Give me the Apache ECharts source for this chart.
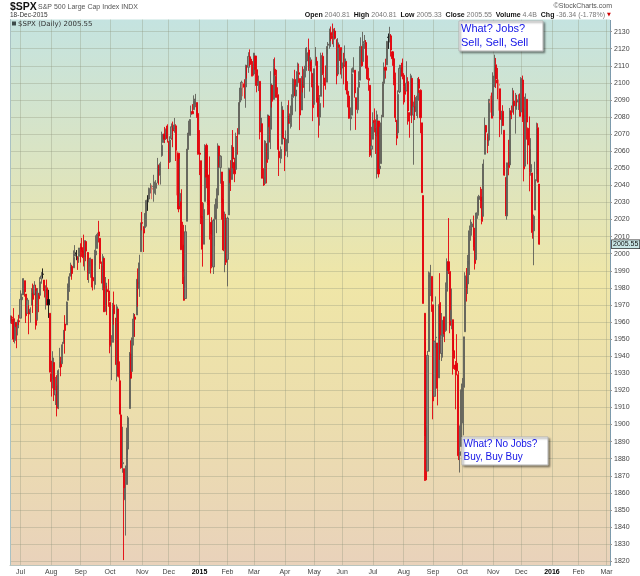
<!DOCTYPE html>
<html><head><meta charset="utf-8">
<script src="https://cdn.jsdelivr.net/npm/echarts@6/dist/echarts.min.js"></script>
<style>html,body{margin:0;padding:0;background:#fff}#c{width:640px;height:576px}</style>
</head><body><div id="c"></div><script>
// ---- Data (S&P 500 daily) ----
const holidays = ['2014-07-04','2014-09-01','2014-11-27','2014-12-25','2015-01-01','2015-01-19','2015-02-16','2015-04-03','2015-05-25','2015-07-03','2015-09-07','2015-11-26','2015-12-25','2016-01-01','2016-01-18','2016-02-15'];
const firstDay = '2014-06-20';
const lastDay = '2016-03-03';
const prevClose0 = 1959.48;
const yTicks = [1820,1830,1840,1850,1860,1870,1880,1890,1900,1910,1920,1930,1940,1950,1960,1970,1980,1990,2000,2010,2020,2030,2040,2050,2060,2070,2080,2090,2100,2110,2120,2130];
const monthNames = ['Jan','Feb','Mar','Apr','May','Jun','Jul','Aug','Sep','Oct','Nov','Dec'];

const open = [
1960.45,1962.92,1961.97,1949.27,1959.89,1956.56,1960.79,
1962.29,1973.06,1975.88,1984.22,1976.39,1965.10,1966.67,1965.76,1969.86,1977.36,1976.35,1979.75,1961.54,1976.93,1975.65,1985.32,1988.07,1984.60,1978.25,1980.03,1973.21,1965.14,
1929.80,1926.62,1936.34,1917.29,1923.03,1910.35,1933.43,1935.73,1935.60,1947.41,1958.87,1958.36,1972.73,1980.46,1986.82,1992.60,1991.74,1998.59,2000.54,1997.42,1998.45,
2004.07,2003.57,2001.67,1998.00,2007.17,2000.73,1988.41,1992.85,1996.74,1986.04,1981.93,1999.30,2003.07,2012.74,2009.08,1992.78,1983.34,1997.32,1966.22,1978.96,1978.21,
1971.44,1945.83,1948.12,1970.01,1962.36,1935.55,1967.68,1925.63,1905.65,1877.11,1874.18,1855.95,1864.91,1885.62,1909.38,1941.29,1931.02,1951.59,1962.97,1964.14,1983.29,1979.49,2001.20,
2018.21,2015.81,2015.29,2023.33,2032.36,2032.01,2038.20,2037.75,2039.21,2039.74,2038.29,2041.48,2051.16,2045.87,2057.46,2065.07,2070.15,2067.36,2074.78,
2065.78,2053.77,2067.45,2073.64,2072.78,2074.84,2056.55,2058.86,2027.92,2030.36,2005.03,1986.71,1973.77,2018.98,2061.04,2069.28,2081.48,2083.25,2084.30,2087.63,2088.49,2082.11,
2058.90,2054.44,2022.15,2005.55,2030.61,2063.45,2046.13,2031.58,2018.40,2013.75,1992.25,2020.76,2020.19,2034.30,2062.98,2050.42,2047.86,2032.34,2002.45,2019.35,
1996.67,2022.71,2048.86,2043.45,2062.28,2053.47,2049.38,2068.55,2069.98,2088.78,2096.47,2099.16,2099.25,2097.65,2109.83,2109.10,2115.30,2113.91,2110.88,
2105.23,2115.76,2107.72,2098.54,2100.91,2072.25,2076.14,2044.69,2041.10,2064.56,2055.35,2080.59,2072.84,2098.69,2090.32,2107.99,2103.94,2093.10,2059.94,2055.78,2064.11,2084.05,
2067.63,2060.03,2064.87,2080.79,2076.94,2081.29,2091.51,2102.03,2092.28,2097.82,2105.96,2102.58,2084.11,2102.82,2098.27,2107.21,2112.80,2119.29,2108.35,2112.49,2105.52,
2087.38,2110.23,2112.63,2091.26,2079.96,2092.13,2115.56,2102.87,2099.62,2100.43,2122.07,2121.30,2129.45,2127.79,2125.55,2130.36,2125.34,2105.13,2122.27,2120.66,
2108.64,2110.41,2110.64,2112.35,2095.09,2092.34,2079.07,2081.12,2106.24,2107.43,2091.34,2084.26,2097.40,2101.58,2121.06,2112.50,2123.16,2123.65,2109.96,2102.62,2098.63,2061.19,
2067.00,2078.03,2073.95,2069.52,2077.66,2049.73,2052.74,2080.03,2099.72,2109.22,2110.55,2126.80,2126.85,2127.55,2118.21,2114.16,2102.24,2078.19,2070.75,2094.70,2106.78,2111.60,
2104.49,2097.68,2095.27,2100.75,2082.61,2080.98,2102.66,2081.10,2086.19,2083.15,2089.70,2101.99,2095.69,2076.61,2034.08,1965.15,1898.08,1872.75,1942.77,1986.06,1986.73,
1970.09,1916.52,1950.79,1947.76,1927.30,1971.45,1941.59,1951.45,1963.06,1955.10,1978.02,1995.33,1989.66,1960.84,1961.39,1943.24,1934.81,1935.93,1929.18,1881.90,1887.14,
1919.65,1921.77,1954.33,1986.63,1982.34,1994.01,2013.73,2015.65,2015.00,2003.66,1996.47,2024.37,2031.73,2033.13,2033.47,2021.88,2058.19,2075.08,2068.75,2066.48,2088.35,2090.00,
2080.76,2102.63,2110.60,2101.68,2098.60,2096.56,2077.19,2083.41,2072.29,2044.64,2022.08,2053.67,2051.99,2083.70,2082.82,2089.41,2084.42,2089.30,2088.82,2090.95,
2082.93,2101.71,2080.71,2051.24,2090.42,2073.39,2061.17,2047.93,2047.27,2013.37,2025.55,2046.50,2073.76,2040.81
];
const high = [
1963.91,1963.74,1968.17,1960.83,1959.89,1961.47,1964.24,
1978.58,1976.67,1985.59,1984.22,1976.39,1974.15,1969.84,1968.67,1979.85,1982.52,1983.94,1981.80,1979.91,1976.93,1986.24,1989.23,1991.39,1984.60,1981.52,1984.85,1978.90,1965.14,
1937.35,1942.92,1936.34,1927.91,1928.89,1932.38,1944.90,1939.65,1948.41,1955.23,1964.04,1971.99,1982.57,1988.57,1994.76,1993.54,2001.95,2005.04,2002.14,1998.55,2003.38,
2006.12,2009.28,2011.17,2007.71,2007.17,2001.01,1996.66,1997.65,1996.74,1987.18,2002.28,2010.74,2012.34,2019.26,2009.08,1995.41,1999.79,1997.32,1986.37,1981.28,1985.17,
1971.44,1952.32,1971.19,1977.84,1962.36,1970.36,1967.68,1936.98,1912.09,1898.71,1874.18,1876.01,1898.16,1905.03,1942.45,1949.31,1961.95,1965.27,1964.64,1985.05,1991.40,1999.40,2018.19,
2024.46,2015.98,2023.77,2031.61,2034.26,2038.70,2041.28,2040.33,2046.18,2042.22,2043.07,2056.08,2052.14,2053.84,2071.46,2070.17,2074.21,2073.29,2075.76,
2065.78,2068.77,2076.28,2077.34,2079.47,2075.78,2060.60,2058.86,2055.53,2037.74,2018.69,2016.89,2016.75,2061.23,2077.85,2078.76,2086.73,2087.56,2092.70,2093.55,2088.49,2085.58,
2072.36,2054.44,2030.25,2029.61,2064.08,2064.43,2049.30,2056.93,2018.40,2021.35,2020.46,2028.94,2038.29,2064.62,2062.98,2057.62,2047.86,2042.49,2024.64,2023.32,
2021.66,2050.30,2054.74,2063.55,2072.40,2056.16,2070.86,2073.48,2088.53,2097.03,2101.30,2100.23,2102.13,2110.61,2110.05,2117.94,2119.59,2113.91,2112.74,
2117.52,2115.76,2107.72,2104.25,2100.91,2083.49,2076.14,2050.08,2066.41,2064.56,2081.41,2080.59,2106.85,2098.69,2113.92,2114.86,2107.63,2097.43,2067.15,2062.83,2088.97,2084.05,
2067.63,2072.17,2086.99,2089.81,2086.69,2093.31,2102.61,2107.65,2098.62,2111.91,2111.30,2102.58,2103.94,2109.64,2109.98,2120.49,2120.92,2125.92,2116.04,2113.65,2105.52,
2108.41,2120.95,2115.24,2098.42,2092.90,2117.66,2117.69,2105.06,2110.19,2121.45,2123.89,2131.78,2133.02,2134.72,2131.78,2132.15,2125.34,2126.22,2122.27,2120.66,
2119.15,2117.59,2121.92,2112.89,2100.99,2093.01,2085.62,2108.50,2115.02,2107.43,2091.34,2097.40,2106.79,2126.65,2121.64,2129.87,2128.03,2125.10,2116.04,2108.92,2098.63,2074.28,
2082.78,2085.06,2078.61,2083.74,2077.66,2074.28,2081.31,2100.67,2111.98,2114.14,2124.42,2128.91,2132.82,2128.49,2118.51,2116.87,2106.01,2078.19,2095.60,2110.60,2110.48,2114.24,
2105.70,2102.51,2112.66,2103.32,2082.61,2105.35,2102.66,2089.06,2092.93,2092.45,2102.87,2103.47,2096.17,2076.61,2034.08,1965.15,1948.04,1943.09,1989.60,1993.48,1986.73,
1970.09,1948.91,1975.01,1947.76,1970.42,1988.63,1965.29,1961.05,1963.06,1983.19,1997.26,2020.86,1989.66,1979.64,1961.39,1949.52,1937.17,1952.89,1931.39,1899.48,1920.53,
1927.21,1951.36,1989.17,1991.62,1999.31,2016.50,2020.13,2018.66,2022.34,2009.56,2024.15,2033.54,2034.45,2039.12,2037.97,2055.20,2079.74,2075.14,2070.37,2090.35,2092.52,2094.32,
2106.20,2116.48,2114.59,2108.78,2101.91,2096.56,2083.67,2086.94,2072.29,2044.64,2053.22,2066.69,2085.31,2086.74,2097.06,2095.61,2094.12,2093.00,2093.29,2093.81,
2103.37,2104.27,2085.00,2093.84,2090.42,2073.85,2080.33,2067.65,2047.27,2022.92,2053.87,2076.72,2076.37,2040.81
];
const low = [
1959.17,1958.89,1948.34,1947.49,1944.69,1952.18,1958.22,
1962.29,1972.58,1975.88,1974.88,1959.46,1965.10,1952.86,1959.63,1969.86,1965.34,1975.67,1955.59,1960.82,1965.77,1975.65,1982.44,1985.79,1974.37,1967.31,1969.95,1962.42,1930.67,
1916.37,1921.20,1913.77,1911.45,1904.78,1909.01,1933.43,1928.29,1935.60,1947.41,1941.50,1958.36,1972.73,1977.68,1986.82,1984.76,1991.74,1998.59,1996.20,1990.52,1994.65,
1994.85,1998.14,1992.54,1990.10,1995.60,1984.61,1982.99,1985.93,1980.26,1978.48,1979.06,1993.29,2003.07,2006.59,1991.01,1982.77,1978.63,1965.99,1966.22,1964.04,1968.96,
1941.72,1926.03,1948.12,1958.43,1935.10,1925.25,1927.56,1906.05,1874.14,1871.79,1820.66,1835.02,1864.91,1882.30,1909.38,1926.83,1931.02,1946.27,1951.37,1964.14,1969.04,1974.75,2001.20,
2013.68,2001.01,2014.42,2015.86,2025.07,2030.17,2035.28,2031.95,2030.44,2035.20,2034.46,2041.48,2040.37,2040.49,2056.75,2065.07,2064.75,2066.62,2065.06,
2049.57,2053.77,2066.65,2062.34,2070.81,2054.27,2034.17,2024.26,2027.92,2002.33,1982.26,1972.56,1973.77,2018.98,2061.03,2069.28,2079.77,2081.86,2084.30,2085.75,2079.53,2057.94,
2046.04,2017.34,1992.44,2005.55,2030.61,2038.33,2022.58,2008.25,1988.44,1991.47,1988.12,2004.49,2012.04,2026.38,2050.54,2040.97,2019.91,2001.49,1989.18,1993.38,
1980.90,2022.71,2036.72,2043.45,2049.97,2041.88,2048.62,2057.99,2069.98,2086.70,2089.80,2092.15,2090.79,2085.44,2102.54,2105.87,2109.89,2103.76,2103.75,
2104.50,2098.26,2094.49,2095.22,2066.93,2072.21,2044.16,2039.69,2041.10,2041.17,2055.35,2065.08,2061.23,2085.56,2090.32,2104.42,2091.50,2061.05,2045.50,2052.96,2064.11,2067.04,
2048.38,2057.32,2056.52,2076.10,2073.30,2074.29,2091.51,2092.33,2083.24,2097.82,2100.02,2072.37,2084.11,2094.38,2091.05,2103.19,2112.80,2107.04,2094.89,2097.41,2077.59,
2087.38,2110.23,2088.46,2067.93,2074.99,2092.13,2104.58,2085.57,2096.04,2100.43,2116.81,2120.01,2124.50,2122.59,2120.92,2126.06,2099.18,2105.13,2112.86,2104.89,
2102.54,2099.14,2109.61,2093.23,2085.67,2079.11,2072.14,2081.12,2106.24,2091.33,2072.49,2082.10,2088.86,2101.58,2109.45,2112.50,2119.89,2108.58,2101.78,2095.38,2056.64,2056.32,
2067.00,2071.02,2058.40,2044.02,2044.66,2049.73,2052.74,2080.03,2098.18,2102.49,2110.55,2119.88,2123.66,2115.40,2110.00,2098.63,2077.09,2063.52,2069.09,2094.08,2094.97,2102.07,
2087.31,2088.60,2095.27,2075.53,2067.91,2080.98,2076.49,2052.09,2078.26,2080.61,2079.30,2094.14,2070.53,2035.73,1970.89,1867.01,1867.08,1872.75,1942.77,1975.19,1965.98,
1903.07,1916.52,1944.72,1911.21,1927.30,1937.88,1937.19,1939.19,1948.27,1954.30,1977.93,1988.12,1953.45,1955.80,1929.22,1932.57,1908.92,1928.83,1879.21,1871.91,1887.14,
1900.70,1893.70,1954.33,1971.99,1976.44,1987.53,2007.61,2010.55,2001.78,1990.73,1996.47,2020.46,2022.31,2026.61,2017.22,2021.88,2058.19,2066.53,2058.84,2063.11,2082.63,2079.34,
2080.76,2097.51,2096.98,2090.41,2083.74,2068.24,2069.91,2074.85,2045.66,2022.02,2019.94,2045.90,2051.99,2078.76,2082.82,2081.39,2070.29,2086.30,2084.13,2080.41,
2082.93,2077.11,2042.35,2051.24,2066.78,2052.32,2036.53,2045.67,2008.80,1993.26,2025.55,2042.43,2041.66,2005.33
];
const close = [
1962.87,1962.61,1949.98,1959.53,1957.22,1960.96,1960.23,
1973.32,1974.62,1985.44,1977.65,1963.71,1972.83,1964.68,1967.57,1977.10,1973.28,1981.57,1958.12,1978.22,1973.63,1983.53,1987.01,1987.98,1978.34,1978.91,1969.95,1970.07,1930.67,
1925.15,1938.99,1920.21,1920.24,1909.57,1931.59,1936.92,1933.75,1946.72,1955.18,1955.06,1971.74,1981.60,1986.51,1992.37,1988.40,1997.92,2000.02,2000.12,1996.74,2003.37,
2002.28,2000.72,1997.65,2007.71,2001.54,1988.44,1995.69,1997.45,1985.54,1984.13,1998.98,2001.57,2011.36,2010.40,1994.29,1982.77,1998.30,1965.99,1982.85,1977.80,1972.29,
1946.16,1946.17,1967.90,1964.82,1935.10,1968.89,1928.21,1906.13,1874.74,1877.70,1862.49,1862.76,1886.76,1904.01,1941.28,1927.11,1950.82,1964.58,1961.63,1985.05,1982.30,1994.65,2018.05,
2017.81,2012.10,2023.57,2031.21,2031.92,2038.26,2039.68,2038.25,2039.33,2039.82,2041.32,2051.80,2048.72,2052.75,2063.50,2069.41,2067.03,2072.83,2067.56,
2053.44,2066.55,2074.33,2071.92,2075.37,2060.31,2059.82,2026.14,2035.33,2002.33,1989.63,1972.74,2012.89,2061.23,2070.65,2078.54,2082.17,2081.88,2088.77,2090.57,2080.35,2058.90,
2058.20,2020.58,2002.61,2025.90,2062.14,2044.81,2028.26,2023.03,2011.27,1992.67,2019.42,2022.55,2032.12,2063.15,2051.82,2057.09,2029.55,2002.16,2021.25,1994.99,
2020.85,2050.03,2041.51,2062.52,2055.47,2046.74,2068.59,2068.53,2088.48,2096.99,2100.34,2099.68,2097.45,2110.30,2109.66,2115.48,2113.86,2110.74,2104.50,
2117.39,2107.78,2098.53,2101.04,2071.26,2079.43,2044.16,2040.24,2065.95,2053.40,2081.19,2074.28,2099.50,2089.27,2108.10,2104.42,2091.50,2061.05,2056.15,2061.02,2086.24,2067.89,
2059.69,2066.96,2080.62,2076.33,2081.90,2091.18,2102.06,2092.43,2095.84,2106.63,2104.99,2081.18,2100.40,2097.29,2107.96,2112.93,2117.69,2108.92,2114.76,2106.85,2085.51,
2108.29,2114.49,2089.46,2080.15,2088.00,2116.10,2105.33,2099.12,2098.48,2121.10,2122.73,2129.20,2127.83,2125.85,2130.82,2126.06,2104.20,2123.48,2120.79,2107.39,
2111.73,2109.60,2114.07,2095.84,2092.83,2079.28,2080.15,2105.20,2108.86,2094.11,2084.43,2096.29,2100.44,2121.24,2109.99,2122.85,2124.20,2108.58,2102.31,2101.49,2057.64,2063.11,
2077.42,2076.78,2068.76,2081.34,2046.68,2051.31,2076.62,2099.60,2108.95,2107.40,2124.29,2126.64,2128.28,2119.21,2114.15,2102.15,2079.65,2067.64,2093.25,2108.57,2108.63,2103.84,
2098.04,2093.32,2099.84,2083.56,2077.57,2104.18,2084.07,2086.05,2083.39,2091.54,2102.44,2096.92,2079.61,2035.73,1970.89,1893.21,1867.61,1940.51,1987.66,1988.87,1972.18,
1913.85,1948.86,1951.13,1921.22,1969.41,1942.04,1952.29,1961.05,1953.03,1978.09,1995.31,1990.20,1958.03,1966.97,1942.74,1938.76,1932.24,1931.34,1881.77,1884.09,1920.03,
1923.82,1951.36,1987.05,1979.92,1995.83,2013.43,2014.89,2017.46,2003.69,1994.24,2023.86,2033.11,2033.66,2030.77,2018.94,2052.51,2075.15,2071.18,2065.89,2090.35,2089.41,2079.36,
2104.05,2109.79,2102.31,2099.93,2099.20,2078.58,2081.72,2075.00,2045.97,2023.04,2053.19,2050.44,2083.58,2081.24,2089.17,2086.59,2089.14,2088.87,2090.11,2080.41,
2102.63,2079.51,2049.62,2091.69,2077.07,2063.59,2047.62,2052.23,2012.37,2021.94,2043.41,2073.07,2041.89,2005.55
];

// ---- Build trading-day categories ----
const dates = [];
(function () {
  const p = s => { const a = s.split('-').map(Number); return Date.UTC(a[0], a[1] - 1, a[2]); };
  const end = p(lastDay);
  for (let t = p(firstDay); t <= end; t += 86400000) {
    const d = new Date(t); const wd = d.getUTCDay();
    const s = d.toISOString().slice(0, 10);
    if (wd !== 0 && wd !== 6 && holidays.indexOf(s) < 0) dates.push(s);
  }
})();
const monthStart = dates.map((s, i) => i > 0 && s.slice(5, 7) !== dates[i - 1].slice(5, 7));
const isTick = (idx) => !!monthStart[idx];

const COL = {
  upFilled: '#0d0d0d', upHollow: '#8a8a80', upHollowB: '#5f5f58',
  dnFilled: '#e3000a', dnHollow: '#f0998a', dnHollowB: '#ea6d60'
};
const candles = close.map((c, i) => {
  const o = open[i];
  const prev = i === 0 ? prevClose0 : close[i - 1];
  const up = c >= prev, hollow = c > o;
  let fill, border;
  if (up) { fill = hollow ? COL.upHollow : COL.upFilled; border = hollow ? COL.upHollowB : COL.upFilled; }
  else { fill = hollow ? COL.dnHollow : COL.dnFilled; border = hollow ? COL.dnHollowB : COL.dnFilled; }
  return { value: [o, c, low[i], high[i]], itemStyle: { color: fill, color0: fill, borderColor: border, borderColor0: border } };
});
const lastClose = close[close.length - 1];

const FONT = '"Liberation Sans", Arial, sans-serif';
const chart = echarts.init(document.getElementById('c'));
chart.setOption({
  animation: false,
  backgroundColor: '#ffffff',
  grid: {
    left: 10, right: 30, top: 19.5, bottom: 10.5, show: true, borderWidth: 0,
    backgroundColor: {
      type: 'linear', x: 0, y: 0, x2: 0, y2: 1,
      colorStops: [
        { offset: 0, color: '#c4e3e0' },
        { offset: 0.25, color: '#dae4c3' },
        { offset: 0.48, color: '#efe6a7' },
        { offset: 0.72, color: '#ecdead' },
        { offset: 1, color: '#e9d2bb' }
      ]
    }
  },
  xAxis: {
    type: 'category', data: dates, boundaryGap: true,
    axisLine: { show: true, lineStyle: { color: '#b9c4bd', width: 1 } },
    axisTick: { show: false },
    axisLabel: {
      interval: isTick, margin: 3, fontSize: 7, color: '#444', fontFamily: FONT,
      formatter: (v) => { const m = +v.slice(5, 7); return m === 1 ? '{y|' + v.slice(0, 4) + '}' : monthNames[m - 1]; },
      rich: { y: { fontSize: 7, fontWeight: 'bold', color: '#000', fontFamily: FONT } }
    },
    splitLine: { show: true, interval: isTick, alignWithLabel: true, lineStyle: { color: 'rgba(140,145,120,0.32)', width: 1 } }
  },
  yAxis: [{
    type: 'value', position: 'right', min: 1817.5, max: 2137.1, scale: true,
    axisLine: { show: true, lineStyle: { color: '#6d8fa3', type: [1, 1], width: 1 } },
    axisTick: { show: true, length: 2, customValues: yTicks, lineStyle: { color: '#999' } },
    axisLabel: { customValues: yTicks, margin: 4, fontSize: 7, color: '#444', fontFamily: FONT, formatter: (v) => String(v) },
    splitLine: { show: true, lineStyle: { color: 'rgba(140,145,120,0.32)', width: 1 } }
  }, {
    type: 'value', position: 'left', min: 1817.5, max: 2137.1,
    axisLine: { show: true, lineStyle: { color: '#a9c1c4', width: 1 } },
    axisTick: { show: false }, axisLabel: { show: false }, splitLine: { show: false }
  }],
  series: [{
    type: 'candlestick', data: candles, barWidth: 1.6, clip: false,
    itemStyle: { borderWidth: 0.9 },
    markLine: {
      silent: true, symbol: 'none', animation: false,
      lineStyle: { color: 'rgba(0,0,0,0)', width: 0.5, type: 'solid' },
      data: [{ yAxis: lastClose }],
      label: {
        show: true, position: 'end', distance: 2, formatter: () => lastClose.toFixed(2),
        fontSize: 7, color: '#111', fontFamily: FONT,
        backgroundColor: '#c9e6e6', borderColor: '#333', borderWidth: 0.8, padding: [1, 1, 0, 1]
      }
    }
  }],
  graphic: [
    { type: 'text', x: 10, y: 1.5, z: 10, style: { text: '$SPX', fontSize: 10.5, fontWeight: 'bold', fontFamily: FONT, fill: '#111' } },
    { type: 'text', x: 38, y: 3.5, z: 10, style: { text: 'S&P 500 Large Cap Index INDX', fontSize: 7, fontFamily: FONT, fill: '#555' } },
    { type: 'text', x: 10, y: 12, z: 10, style: { text: '18-Dec-2015', fontSize: 6.5, fontFamily: FONT, fill: '#333' } },
    { type: 'text', x: 612, y: 3, z: 10, style: { text: '©StockCharts.com', align: 'right', fontSize: 7, fontFamily: FONT, fill: '#555' } },
    { type: 'text', x: 605, y: 11.5, z: 10, style: {
        text: '{b|Open} {v|2040.81}  {b|High} {v|2040.81}  {b|Low} {v|2005.33}  {b|Close} {v|2005.55}  {b|Volume} {v|4.4B}  {b|Chg} {v|-36.34 (-1.78%)}',
        align: 'right', fontSize: 7, fontFamily: FONT, fill: '#111',
        rich: { b: { fontWeight: 'bold', fontSize: 7, fontFamily: FONT, fill: '#111' }, v: { fontSize: 7, fontFamily: FONT, fill: '#777' } } } },
    { type: 'text', x: 607, y: 12.5, z: 10, style: { text: '▼', fontSize: 5, fontFamily: 'DejaVu Sans', fill: '#d00000' } },
    { type: 'rect', z: 10, shape: { x: 12, y: 21.5, width: 4, height: 4 }, style: { fill: '#3c4a4a' } },
    { type: 'text', x: 18, y: 20.5, z: 10, style: { text: '$SPX (Daily) 2005.55', fontSize: 7, fontFamily: 'DejaVu Sans', fill: '#333' } },
    { type: 'rect', z: 20, shape: { x: 459, y: 21, width: 84, height: 30 }, style: { fill: '#ffffff', stroke: '#b5b5b5', lineWidth: 1, shadowBlur: 2, shadowOffsetX: 1.5, shadowOffsetY: 1.5, shadowColor: 'rgba(0,0,0,0.35)' } },
    { type: 'text', z: 21, x: 461, y: 23.5, style: { text: 'What? Jobs?', fontSize: 11, fontFamily: FONT, fill: '#1414e6' } },
    { type: 'text', z: 21, x: 461, y: 37.5, style: { text: 'Sell, Sell, Sell', fontSize: 11, fontFamily: FONT, fill: '#1414e6' } },
    { type: 'rect', z: 20, shape: { x: 462, y: 437, width: 86, height: 28 }, style: { fill: '#ffffff', stroke: '#b5b5b5', lineWidth: 1, shadowBlur: 2, shadowOffsetX: 1.5, shadowOffsetY: 1.5, shadowColor: 'rgba(0,0,0,0.35)' } },
    { type: 'text', z: 21, x: 463.5, y: 439.5, style: { text: 'What? No Jobs?', fontSize: 10, fontFamily: FONT, fill: '#1414e6' } },
    { type: 'text', z: 21, x: 463.5, y: 452.5, style: { text: 'Buy, Buy Buy', fontSize: 10, fontFamily: FONT, fill: '#1414e6' } }
  ]
});
</script></body></html>
